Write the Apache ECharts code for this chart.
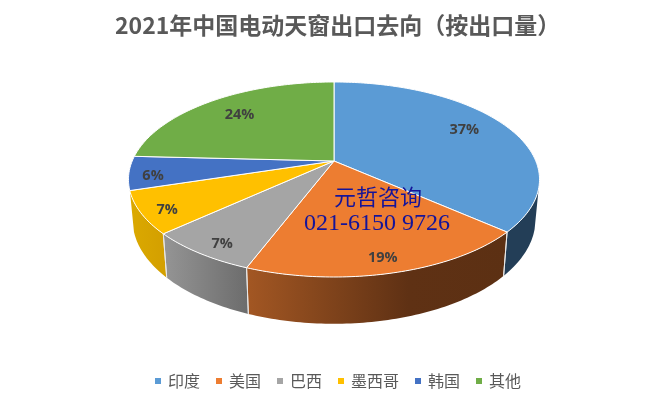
<!DOCTYPE html>
<html><head><meta charset="utf-8">
<style>html,body{margin:0;padding:0;background:#fff}#c{width:671px;height:405px}</style>
<script src="https://cdn.jsdelivr.net/npm/echarts@6/dist/echarts.min.js"></script>
</head><body><div id="c"></div>
<script>
var categories = ['印度','美国','巴西','墨西哥','韩国','其他'];
var shares = [36.5,19.3,7.4,7.0,5.6,24.2];
var titleText = '2021年中国电动天窗出口去向(按出口量)'.replace('(','（').replace(')','）');
var noteLines = ['元哲咨询','021-6150 9726'];

var faceColors = ['#5B9BD5','#ED7D31','#A5A5A5','#FFC000','#4472C4','#70AD47'];
var wallStops = [
  [[0,'#233E57'],[1,'#233E57']],
  [[0,'#A35723'],[0.62,'#5F3114'],[1,'#5C3013']],
  [[0,'#959595'],[1,'#6C6C6C']],
  [[0,'#DBA900'],[1,'#D39F00']],
  [[0,'#2A4475'],[1,'#2A4475']],
  [[0,'#43682B'],[1,'#43682B']]
];
// perspective layout of the pie
var P = {cx:334, cy:161, A:201.8, B:94, k:0.1897, bx:0.98, by:1.067, drop:39, wallFrom:106, wallTo:252.5};
var labelShift = [[0,-4],[-2,1],[4,3],[1,4],[-1,4],[0,0]];

function project(deg, t, lower){
  var a = deg*Math.PI/180, u = t*Math.sin(a), v = -t*Math.cos(a), w = 1-P.k*v;
  var x = P.A*u/w, y = P.B*v/w;
  return lower ? [P.cx+x*P.bx, P.cy+P.drop+y*P.by] : [P.cx+x, P.cy+y];
}
function arc(d0,d1,lower){
  var pts=[], n=Math.max(1,Math.ceil(Math.abs(d1-d0)));
  for(var i=0;i<=n;i++) pts.push(project(d0+(d1-d0)*i/n,1,lower));
  return pts;
}
var starts = [];
shares.reduce(function(s,v){starts.push(s);return s+v;},0);

function renderSlice(params, api){
  var idx = params.seriesIndex, val = api.value(0), st = api.value(1);
  var d0 = st*3.6, d1 = (st+val)*3.6, kids = [];
  var w0 = Math.max(d0,P.wallFrom), w1 = Math.min(d1,P.wallTo);
  if(w1>w0){
    kids.push({type:'polygon',z2:1,
      shape:{points:arc(w0,w1,false).concat(arc(w1,w0,true))},
      style:{fill:new echarts.graphic.LinearGradient(0,0,1,0,wallStops[idx].map(function(s){return {offset:s[0],color:s[1]};}))}});
    [d0,d1].forEach(function(d){
      if(d>=P.wallFrom && d<=P.wallTo){
        var a=project(d,1,false), b=project(d,1,true);
        kids.push({type:'line',z2:2,shape:{x1:a[0],y1:a[1],x2:b[0],y2:b[1]},style:{stroke:'#E8E8E8',lineWidth:1}});
      }
    });
  }
  kids.push({type:'polygon',z2:10,
    shape:{points:[[P.cx,P.cy]].concat(arc(d0,d1,false))},
    style:{fill:faceColors[idx],stroke:'#fff',lineWidth:1,lineJoin:'round'}});
  var mid=(d0+d1)/2, isFar=Math.cos(mid*Math.PI/180)>0;
  var lp=project(mid,isFar?0.75:0.88,false);
  kids.push({type:'text',z2:20,x:lp[0]+labelShift[idx][0],y:lp[1]+labelShift[idx][1],
    style:{text:Math.round(val)+'%',align:'center',verticalAlign:'middle',fill:'#404040',
      font:'bold 14.5px "Open Sans","Noto Sans",sans-serif'}});
  return {type:'group',children:kids};
}

var chart = echarts.init(document.getElementById('c'),null,{renderer:'canvas'});
chart.setOption({
  animation:false,
  backgroundColor:'#fff',
  title:{text:titleText,left:110,top:9,
    textStyle:{color:'#595959',fontSize:23,fontWeight:'bold',fontFamily:'"Noto Sans CJK SC",sans-serif'}},
  legend:{bottom:11,left:150,icon:'rect',itemWidth:6,itemHeight:6,itemGap:16,
    data:categories,
    textStyle:{color:'#595959',fontSize:16,fontFamily:'"Noto Sans CJK SC",sans-serif',padding:[0,0,0,2]}},
  graphic:noteLines.map(function(t,i){
    return {type:'text',z:100,left:i?304:334,top:i?212:188,
      style:{text:t,fill:'#14149A',font:(i?'24px':'22px')+' "Liberation Serif","Noto Sans CJK SC",serif'}};
  }),
  series:categories.map(function(name,i){
    return {type:'custom',name:name,coordinateSystem:'none',renderItem:renderSlice,
      itemStyle:{color:faceColors[i]},
      data:[{name:name,value:[shares[i],starts[i]]}]};
  })
});
</script></body></html>
